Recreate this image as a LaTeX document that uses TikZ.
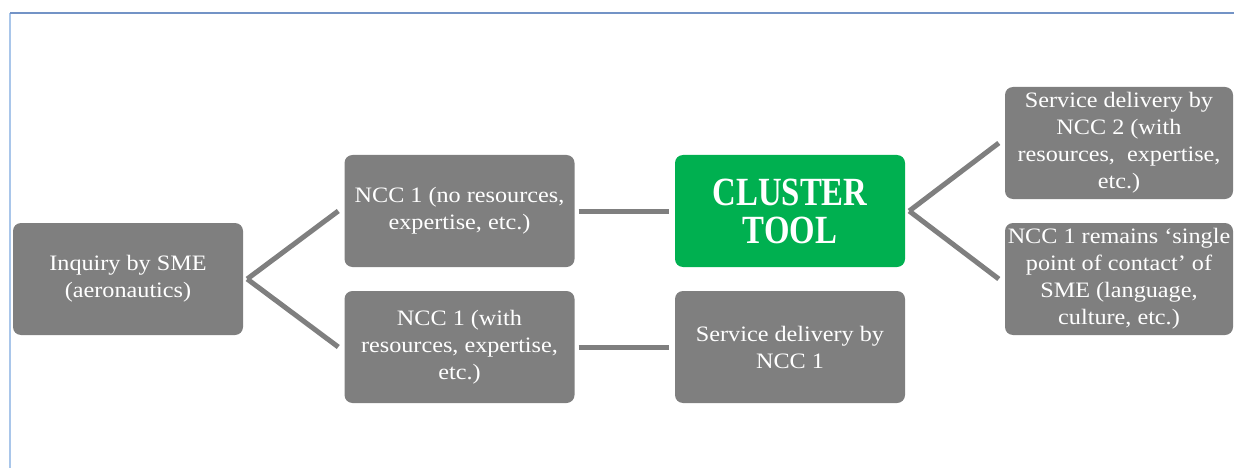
\documentclass[tikz,border=0pt]{standalone}
\usepackage{fontspec}
\setmainfont[FakeStretch=1.1]{Liberation Serif}
\newfontfamily\clusterfont[FakeStretch=0.82]{Liberation Serif}
\usetikzlibrary{calc}
\definecolor{boxgray}{HTML}{7F7F7F}
\definecolor{clustergreen}{HTML}{00B050}
\definecolor{frametop}{HTML}{7393C6}
\definecolor{frameleft}{HTML}{A9C6EA}
\tikzstyle{stage}=[rounded corners=8pt,fill=boxgray,text=white,minimum width=230pt,minimum height=112pt,inner sep=0pt,align=center,font=\fontsize{22}{27}\selectfont]
\tikzstyle{hub}=[stage,fill=clustergreen,font=\clusterfont\bfseries\fontsize{40}{38}\selectfont]
\tikzstyle{link}=[draw=boxgray,line width=5pt]
\begin{document}
\begin{tikzpicture}[x=1pt,y=-1pt]
\useasboundingbox (0,0) rectangle (1234,468);
% frame
\coordinate (fl) at (10,468);
\coordinate (fc) at (10,13);
\coordinate (fr) at (1234,13);
\draw[frameleft,line width=2pt] (fl) -- (fc);
\draw[frametop,line width=1.5pt] (fc) -- (fr);
% boxes
\node[stage] (inq) at (128,279) {Inquiry by SME\\(aeronautics)};
\node[stage] (nccno) at (459.5,211) {NCC 1 (no resources,\\expertise, etc.)};
\node[stage] (nccwith) at (459.5,347) {NCC 1 (with\\resources, expertise,\\etc.)};
\node[hub] (cluster) at (790,211) {CLUSTER\\TOOL};
\node[stage] (sdone) at (790,347) {Service delivery by\\NCC 1};
\node[stage,minimum width=228pt] (sdtwo) at (1119,143) {Service delivery by\\NCC 2 (with\\resources,\ \ expertise,\\etc.)};
\node[stage,minimum width=228pt] (contact) at (1119,279) {NCC 1 remains `single\\point of contact' of\\SME (language,\\culture, etc.)};
% connectors
\draw[link] ([xshift=4pt]inq.east) -- ([xshift=-6pt]nccno.west);
\draw[link] ([xshift=4pt]inq.east) -- ([xshift=-6pt]nccwith.west);
\draw[link] ([xshift=4pt]nccno.east) -- ([xshift=-6pt]cluster.west);
\draw[link] ([xshift=4pt]nccwith.east) -- ([xshift=-6pt]sdone.west);
\draw[link] ([xshift=4pt]cluster.east) -- ([xshift=-6pt]sdtwo.west);
\draw[link] ([xshift=4pt]cluster.east) -- ([xshift=-6pt]contact.west);
\end{tikzpicture}
\end{document}
